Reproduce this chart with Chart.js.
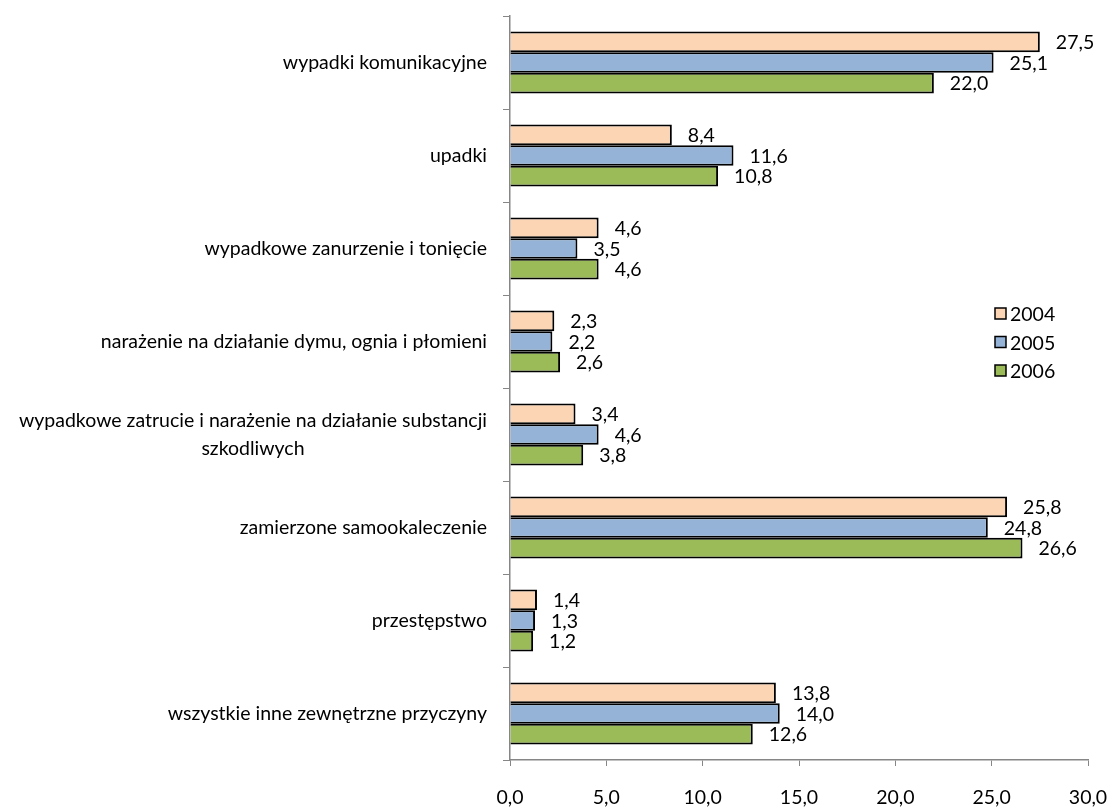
<!DOCTYPE html>
<html>
<head>
<meta charset="utf-8">
<script src="https://cdn.jsdelivr.net/npm/chart.js@4"></script>
<style>
  body { margin: 0; background: #fff; }
</style>
</head>
<body>
<canvas id="myChart" width="1110" height="808"></canvas>
<script>
const categories = [
  'wypadki komunikacyjne',
  'upadki',
  'wypadkowe zanurzenie i tonięcie',
  'narażenie na działanie dymu, ognia i płomieni',
  ['wypadkowe zatrucie i narażenie na działanie substancji', 'szkodliwych'],
  'zamierzone samookaleczenie',
  'przestępstwo',
  'wszystkie inne zewnętrzne przyczyny'
];
const years = ['2004', '2005', '2006'];
const v2004 = [27.5, 8.4, 4.6, 2.3, 3.4, 25.8, 1.4, 13.8];
const v2005 = [25.1, 11.6, 3.5, 2.2, 4.6, 24.8, 1.3, 14.0];
const v2006 = [22.0, 10.8, 4.6, 2.6, 3.8, 26.6, 1.2, 12.6];
const colors = ['#FCD5B5', '#95B3D7', '#9BBB59'];

const FONT = 'Lato, "Open Sans", sans-serif';
const FS = 19.5;
const fmt = v => v.toFixed(1).replace('.', ',');

// etykiety kategorii (wyśrodkowane wiersze, blok do prawej)
const yLabels = {
  id: 'yLabels',
  afterDraw(chart) {
    const c = chart.ctx, sc = chart.scales.y;
    c.save();
    c.font = FS + 'px ' + FONT;
    c.fillStyle = '#000';
    c.textAlign = 'center';
    c.textBaseline = 'middle';
    const right = sc.right - 23, lh = 28;
    categories.forEach((lab, i) => {
      const lines = Array.isArray(lab) ? lab : [lab];
      const w = Math.max(...lines.map(l => c.measureText(l).width));
      const y = sc.getPixelForTick(i);
      lines.forEach((l, j) => {
        c.fillText(l, right - w / 2, y + (j - (lines.length - 1) / 2) * lh);
      });
    });
    c.restore();
  }
};

// wartości przy słupkach
const valueLabels = {
  id: 'valueLabels',
  afterDatasetsDraw(chart) {
    const c = chart.ctx;
    c.save();
    c.font = FS + 'px ' + FONT;
    c.fillStyle = '#000';
    c.textAlign = 'left';
    c.textBaseline = 'middle';
    chart.data.datasets.forEach((ds, d) => {
      chart.getDatasetMeta(d).data.forEach((bar, i) => {
        c.fillText(fmt(ds.data[i]), bar.x + 16, bar.y + 1);
      });
    });
    c.restore();
  }
};

// legenda po prawej
const sideLegend = {
  id: 'sideLegend',
  afterDraw(chart) {
    const c = chart.ctx;
    c.save();
    c.font = FS + 'px ' + FONT;
    c.textBaseline = 'middle';
    c.textAlign = 'left';
    chart.data.datasets.forEach((ds, d) => {
      const y = 314 + d * 28.5;
      c.fillStyle = ds.backgroundColor;
      c.fillRect(995, y - 6, 11, 11);
      c.strokeStyle = '#000';
      c.lineWidth = 1.5;
      c.strokeRect(995, y - 6, 11, 11);
      c.fillStyle = '#000';
      c.fillText(ds.label, 1010, y + 1);
    });
    c.restore();
  }
};

const series = [v2004, v2005, v2006];

new Chart(document.getElementById('myChart'), {
  type: 'bar',
  data: {
    labels: categories,
    datasets: years.map((y, k) => ({
      label: y,
      data: series[k],
      backgroundColor: colors[k],
      borderColor: '#000',
      borderWidth: 2,
      barPercentage: 1,
      categoryPercentage: 0.667
    }))
  },
  options: {
    indexAxis: 'y',
    responsive: false,
    animation: false,
    layout: { padding: { top: 16, right: 22, left: 0, bottom: 0 } },
    plugins: {
      legend: { display: false },
      tooltip: { enabled: false }
    },
    scales: {
      x: {
        min: 0, max: 30,
        ticks: {
          stepSize: 5,
          padding: 20,
          color: '#000',
          font: { family: FONT, size: FS },
          callback: v => fmt(v)
        },
        grid: { drawOnChartArea: false, drawTicks: true, tickLength: 6, color: '#868686' },
        border: { color: '#868686', width: 1.5 },
        afterFit(scale) {
          scale.height = 48;
          scale.paddingRight = 0;
          scale.paddingLeft = 0;
        }
      },
      y: {
        offset: true,
        ticks: { display: false },
        grid: { offset: true, drawOnChartArea: false, drawTicks: true, tickLength: 7, color: '#868686' },
        border: { color: '#868686', width: 1.5 },
        afterFit(scale) { scale.width = 510; }
      }
    }
  },
  plugins: [yLabels, valueLabels, sideLegend]
});
</script>
</body>
</html>
